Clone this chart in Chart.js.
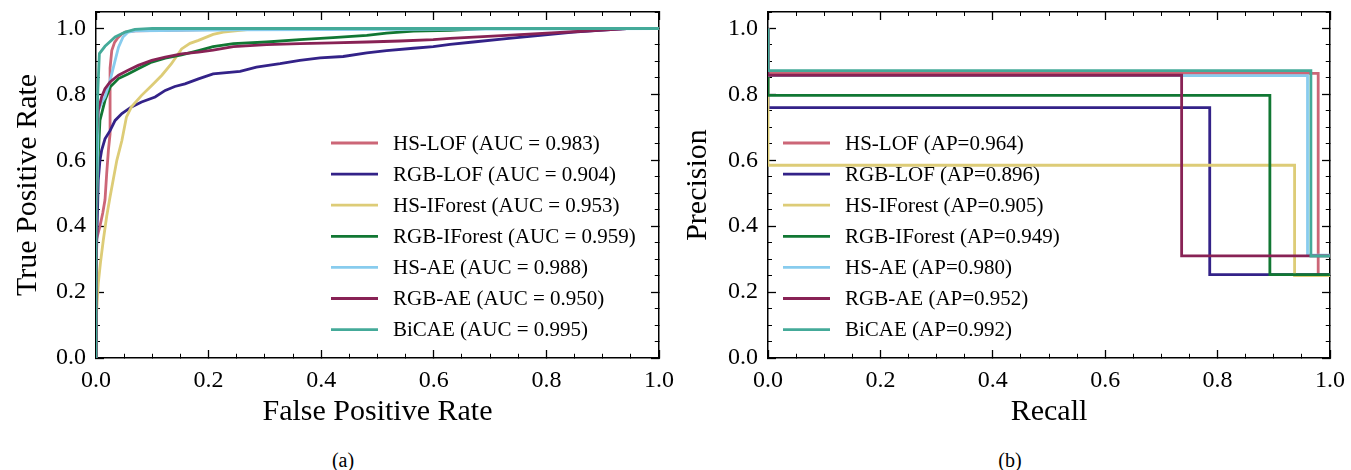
<!DOCTYPE html>
<html><head><meta charset="utf-8">
<script src="https://cdn.jsdelivr.net/npm/chart.js@4.4.1/dist/chart.umd.min.js"></script>
<style>
html,body{margin:0;padding:0;background:#fff;}
#wrap{position:relative;width:1351px;height:470px;overflow:hidden;background:#fff;}
canvas{position:absolute;top:0;}
.cap{position:absolute;font-family:"Liberation Serif","Times New Roman",serif;font-size:20px;line-height:1;color:#000;transform:translateX(-50%);white-space:nowrap;}
</style></head><body>
<div id="wrap">
<canvas id="roc" width="676" height="440" style="left:0px"></canvas>
<canvas id="pr" width="675" height="440" style="left:676px"></canvas>
<div class="cap" style="left:343px;top:450px">(a)</div>
<div class="cap" style="left:1010px;top:450px">(b)</div>
</div>
<script>
// ---------- data ----------
const methods = ['HS-LOF','RGB-LOF','HS-IForest','RGB-IForest','HS-AE','RGB-AE','BiCAE'];
const colors  = ['#CC6677','#332288','#DDCC77','#117733','#88CCEE','#882255','#44AA99'];
const aucValues = ['0.983','0.904','0.953','0.959','0.988','0.950','0.995'];
const apValues  = ['0.964','0.896','0.905','0.949','0.980','0.952','0.992'];
const tickLabels = ['0.0','0.2','0.4','0.6','0.8','1.0'];

// ROC curves (FPR, TPR)
const hsLofFpr = [0, 0, 0.001, 0.007, 0.012, 0.016, 0.019, 0.022, 0.025, 0.025, 0.028, 0.033, 0.038, 0.045, 0.052, 0.07, 0.15, 0.3, 1];
const hsLofTpr = [0, 0.30, 0.358, 0.40, 0.44, 0.48, 0.56, 0.63, 0.68, 0.88, 0.933, 0.958, 0.97, 0.982, 0.989, 0.993, 0.995, 1, 1];

const rgbLofFpr = [0, 0, 0.002, 0.004, 0.007, 0.01, 0.016, 0.025, 0.034, 0.046, 0.063, 0.081, 0.105, 0.123, 0.14, 0.158, 0.182, 0.208, 0.256, 0.285, 0.327, 0.362, 0.398, 0.439, 0.481, 0.516, 0.564, 0.599, 0.629, 0.67, 0.729, 0.789, 0.848, 0.907, 0.95, 1];
const rgbLofTpr = [0, 0.25, 0.40, 0.54, 0.60, 0.63, 0.665, 0.69, 0.721, 0.742, 0.762, 0.777, 0.792, 0.812, 0.824, 0.832, 0.847, 0.862, 0.87, 0.883, 0.893, 0.903, 0.911, 0.915, 0.926, 0.933, 0.94, 0.945, 0.952, 0.959, 0.969, 0.979, 0.989, 0.996, 1, 1];

const hsIfFpr = [0, 0, 0.002, 0.004, 0.008, 0.013, 0.019, 0.025, 0.031, 0.037, 0.046, 0.054, 0.063, 0.081, 0.099, 0.117, 0.134, 0.152, 0.167, 0.182, 0.208, 0.226, 0.26, 0.29, 1];
const hsIfTpr = [0, 0.10, 0.17, 0.226, 0.29, 0.358, 0.43, 0.489, 0.545, 0.60, 0.66, 0.731, 0.762, 0.797, 0.827, 0.858, 0.893, 0.938, 0.955, 0.964, 0.982, 0.989, 0.995, 1.0, 1];

const rgbIfFpr = [0, 0, 0.002, 0.005, 0.007, 0.016, 0.025, 0.04, 0.057, 0.075, 0.099, 0.123, 0.152, 0.182, 0.208, 0.244, 0.303, 0.362, 0.421, 0.481, 0.516, 0.564, 0.629, 0.70, 1];
const rgbIfTpr = [0, 0.30, 0.52, 0.65, 0.721, 0.782, 0.822, 0.848, 0.862, 0.878, 0.898, 0.91, 0.92, 0.933, 0.945, 0.954, 0.959, 0.966, 0.972, 0.979, 0.986, 0.992, 0.994, 1.0, 1];

const hsAeFpr = [0, 0, 0.002, 0.004, 0.01, 0.016, 0.025, 0.034, 0.04, 0.048, 0.057, 0.07, 0.25, 1];
const hsAeTpr = [0, 0.36, 0.55, 0.75, 0.775, 0.792, 0.842, 0.903, 0.943, 0.974, 0.989, 0.993, 0.996, 1];

const rgbAeFpr = [0, 0, 0.001, 0.004, 0.01, 0.016, 0.025, 0.04, 0.057, 0.075, 0.099, 0.123, 0.152, 0.182, 0.208, 0.244, 0.303, 0.362, 0.421, 0.481, 0.54, 0.599, 0.629, 0.729, 0.848, 0.907, 0.95, 1];
const rgbAeTpr = [0, 0.48, 0.66, 0.752, 0.792, 0.817, 0.838, 0.858, 0.873, 0.888, 0.903, 0.913, 0.923, 0.928, 0.934, 0.945, 0.951, 0.954, 0.956, 0.959, 0.962, 0.966, 0.97, 0.979, 0.99, 0.996, 1, 1];

const bicaeFpr = [0, 0, 0.003, 0.006, 0.016, 0.034, 0.052, 0.069, 0.1, 1];
const bicaeTpr = [0, 0.5, 0.80, 0.924, 0.946, 0.974, 0.989, 0.997, 1, 1];

// PR curves (recall, precision) as step points
const hsLofRecall = [0, 0.979, 1.0];   const hsLofPrecision = [1.0, 0.864, 0.254];
const rgbLofRecall = [0, 0.786, 1.0];  const rgbLofPrecision = [1.0, 0.760, 0.253];
const hsIfRecall = [0, 0.937, 1.0];    const hsIfPrecision = [1.0, 0.585, 0.250];
const rgbIfRecall = [0, 0.893, 1.0];   const rgbIfPrecision = [1.0, 0.797, 0.253];
const hsAeRecall = [0, 0.960, 1.0];    const hsAePrecision = [1.0, 0.857, 0.312];
const rgbAeRecall = [0, 0.736, 1.0];   const rgbAePrecision = [1.0, 0.858, 0.310];
const bicaeRecall = [0, 0.966, 1.0];   const bicaePrecision = [1.0, 0.872, 0.309];

const rocX = [hsLofFpr, rgbLofFpr, hsIfFpr, rgbIfFpr, hsAeFpr, rgbAeFpr, bicaeFpr];
const rocY = [hsLofTpr, rgbLofTpr, hsIfTpr, rgbIfTpr, hsAeTpr, rgbAeTpr, bicaeTpr];
const prX = [hsLofRecall, rgbLofRecall, hsIfRecall, rgbIfRecall, hsAeRecall, rgbAeRecall, bicaeRecall];
const prY = [hsLofPrecision, rgbLofPrecision, hsIfPrecision, rgbIfPrecision, hsAePrecision, rgbAePrecision, bicaePrecision];

// ---------- helpers ----------
const FONT = '"Liberation Serif","Times New Roman",serif';
const MAJ_LEN = 8, MIN_LEN = 4, BORDER_W = 1.5;
function isMajor(v){ const q = v / 0.2; return Math.abs(q - Math.round(q)) < 1e-6; }
function tickLabel(v){ return isMajor(v) ? (tickLabels[Math.round(v / 0.2)] || '') : ''; }

function makeScale(pos, max, opt){
  const horiz = (pos === 'top' || pos === 'bottom');
  const startsAtBorder = (pos === 'bottom' || pos === 'right');
  const L = MAJ_LEN + BORDER_W / 2;
  return {
    type: 'linear', axis: horiz ? 'x' : 'y', position: pos, min: 0, max: max, z: 1,
    ticks: {
      display: !!opt.labels, stepSize: 0.05, maxTicksLimit: 100, autoSkip: false,
      maxRotation: 0, minRotation: 0, color: '#000',
      font: {family: FONT, size: 24}, padding: opt.padding || 0,
      callback: (v) => tickLabel(v)
    },
    grid: {
      drawOnChartArea: false, drawTicks: true, tickLength: -MAJ_LEN, tickColor: '#000',
      tickWidth: (c) => isMajor(c.tick.value) ? 1.3 : 1.0,
      tickBorderDash: (c) => {
        if (isMajor(c.tick.value)) return [];
        return startsAtBorder ? [MIN_LEN + BORDER_W / 2, 100] : [0, L - MIN_LEN - BORDER_W / 2, 20, 100];
      }
    },
    border: {display: true, color: '#000', width: BORDER_W},
    title: opt.title ? {display: true, text: opt.title, color: '#000', font: {family: FONT, size: 30},
                        padding: opt.titlePad} : {display: false},
    afterFit: (s) => {
      if (horiz) s.height = opt.size; else s.width = opt.size;
      s.paddingLeft = 0; s.paddingRight = 0; s.paddingTop = 0; s.paddingBottom = 0;
    }
  };
}

const inlineLegend = {
  id: 'inlineLegend',
  afterDraw(chart, args, o){
    const {ctx, chartArea} = chart;
    ctx.save();
    ctx.font = o.fontSize + 'px ' + FONT;
    ctx.textBaseline = 'middle'; ctx.textAlign = 'left'; ctx.fillStyle = '#000';
    chart.data.datasets.forEach((ds, i) => {
      const y = chartArea.top + o.top + i * o.rowGap;
      const x = chartArea.left + o.left;
      ctx.strokeStyle = ds.borderColor; ctx.lineWidth = ds.borderWidth; ctx.lineCap = 'butt';
      ctx.beginPath(); ctx.moveTo(x, y); ctx.lineTo(x + o.lineLen, y); ctx.stroke();
      ctx.fillText(ds.label, x + o.textGap, y + 1);
    });
    ctx.restore();
  }
};

function makeDatasets(xs, ys, labelFn, stepped){
  return methods.map((m, i) => ({
    label: labelFn(i),
    data: xs[i].map((x, j) => ({x: x, y: ys[i][j]})),
    borderColor: colors[i], backgroundColor: colors[i],
    borderWidth: 2.8, pointRadius: 0, pointHoverRadius: 0, tension: 0, fill: false,
    stepped: stepped, clip: 0, order: methods.length - i
  }));
}

function makeChart(canvasId, datasets, xTitle, yTitle, yAxisW, rightPad, yTitlePad, legendLeft){
  return new Chart(document.getElementById(canvasId), {
    type: 'line',
    data: {datasets: datasets},
    options: {
      responsive: false, animation: false, devicePixelRatio: 1,
      layout: {autoPadding: false, padding: {left: 0, top: 12, right: rightPad, bottom: 0}},
      plugins: {legend: {display: false}, tooltip: {enabled: false},
        inlineLegend: {left: legendLeft, top: 131, rowGap: 31.1, lineLen: 47, textGap: 62, fontSize: 21}},
      scales: {
        x: makeScale('bottom', 1.0, {labels: true, padding: 16, title: xTitle, titlePad: {top: 0, bottom: 10}, size: 82}),
        xTop: makeScale('top', 1.0, {labels: false, size: 0}),
        y: makeScale('left', 1.05, {labels: true, padding: 18, title: yTitle, titlePad: {top: yTitlePad, bottom: 0}, size: yAxisW}),
        yRight: makeScale('right', 1.05, {labels: false, size: 0})
      }
    },
    plugins: [inlineLegend]
  });
}

makeChart('roc', makeDatasets(rocX, rocY, i => methods[i] + ' (AUC = ' + aucValues[i] + ')', false),
  'False Positive Rate', 'True Positive Rate', 96, 17, 10, 235);
makeChart('pr', makeDatasets(prX, prY, i => methods[i] + ' (AP=' + apValues[i] + ')', 'after'),
  'Recall', 'Precision', 92, 21, 4, 15);
</script>
</body></html>
